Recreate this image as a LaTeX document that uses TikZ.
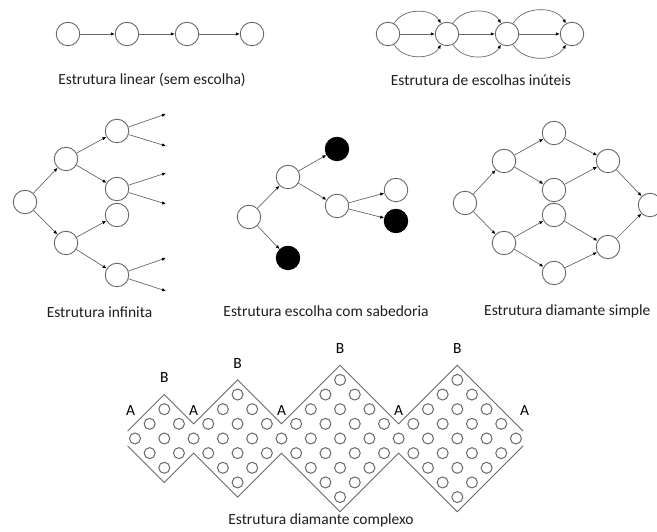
\documentclass[tikz,border=0pt]{standalone}
\usepackage{fontspec}
\setmainfont{Carlito}
\usetikzlibrary{positioning, arrows.meta}
\definecolor{linegray}{RGB}{105,105,105}
\definecolor{textgray}{RGB}{30,30,30}

\begin{document}
\begin{tikzpicture}[x=1pt, y=1pt,
  state/.style={circle, draw=linegray, line width=0.9pt, minimum size=23.5pt, inner sep=0pt, fill=white},
  dead/.style={state, fill=black, draw=black},
  dot/.style={circle, draw=linegray, line width=1pt, minimum size=11pt, inner sep=0pt},
  arrow/.style={-{Latex[length=4pt, width=3.4pt, color=black]}, linegray, line width=0.7pt},
  outline/.style={linegray, line width=0.9pt},
  caption/.style={font=\fontsize{15.5}{17}\selectfont, text=textgray, inner sep=0pt},
  tag/.style={font=\fontsize{15.5}{17}\selectfont, text=black, inner sep=0pt}
]
  \useasboundingbox (0,0) rectangle (657,532);
  \clip (0,0) rectangle (657,532);

  % linear
  \foreach \x [count=\i] in {68,127,187,252}
    \node[state] (L\i) at (\x, 498) {};
  \foreach \i/\j in {1/2,2/3,3/4}
    \draw[arrow] (L\i) -- (L\j);
  \node[caption] (capL) at (152, 452) {Estrutura linear (sem escolha)};

  % useless choices
  \foreach \x [count=\i] in {388,447,507,572}
    \node[state] (U\i) at (\x, 498) {};
  \foreach \i/\j in {1/2,2/3,3/4} {
    \draw[arrow] (U\i) -- (U\j);
    \draw[arrow] (U\i) to[out=60, in=120] (U\j);
    \draw[arrow] (U\i) to[out=-60, in=-120] (U\j);
  }
  \node[caption] (capU) at (481, 452) {Estrutura de escolhas inúteis};

  % infinite
  \node[state] (I0) at (25, 330) {};
  \node[state] (I1) at (66, 373) {};
  \node[state] (I2) at (66, 289) {};
  \node[state] (I11) at (117, 401) {};
  \node[state] (I12) at (117, 343) {};
  \node[state] (I21) at (117, 317) {};
  \node[state] (I22) at (117, 257) {};
  \foreach \y [count=\i] in {418,386,359,328,274,241}
    \coordinate (f\i) at (166, \y);
  \foreach \a/\b in {I0/I1, I0/I2, I1/I11, I1/I12, I2/I21, I2/I22,
                     I11/f1, I11/f2, I12/f3, I12/f4, I22/f5, I22/f6}
    \draw[arrow] (\a) -- (\b);
  \node[caption] (capI) at (99.5, 220) {Estrutura infinita};

  % wisdom
  \node[state] (W0) at (249, 315) {};
  \node[state] (W1) at (288, 355) {};
  \node[dead] (W2) at (288, 274) {};
  \node[dead] (W11) at (337, 383) {};
  \node[state] (W12) at (337, 326) {};
  \node[state] (W121) at (396, 342) {};
  \node[dead] (W122) at (396, 311) {};
  \foreach \a/\b in {W0/W1, W0/W2, W1/W11, W1/W12, W12/W121, W12/W122}
    \draw[arrow] (\a) -- (\b);
  \node[caption] (capW) at (326, 221) {Estrutura escolha com sabedoria};

  % simple diamond
  \node[state] (S0) at (465, 329) {};
  \node[state] (S1) at (504, 371) {};
  \node[state] (S2) at (504, 289) {};
  \node[state] (S11) at (554, 399) {};
  \node[state] (S12) at (554, 342) {};
  \node[state] (S21) at (554, 317) {};
  \node[state] (S22) at (554, 259) {};
  \node[state] (S3) at (608, 371) {};
  \node[state] (S4) at (608, 285) {};
  \node[state] (S5) at (650, 327) {};
  \foreach \a/\b in {S0/S1, S0/S2, S1/S11, S1/S12, S2/S21, S2/S22,
                     S11/S3, S12/S3, S21/S4, S22/S4, S3/S5, S4/S5}
    \draw[arrow] (\a) -- (\b);
  \node[caption, anchor=west] (capS) at (484, 221) {Estrutura diamante simple};

  % complex diamond
  \begin{scope}[shift={(135,93.5)}, x=14.65pt, y=14.65pt]
    \foreach \c/\r/\s in {2/2/-2, 7/3/-2, 14/4/-3, 22/4/-3}
      \foreach \d in {\s,...,\r} {
        \pgfmathtruncatemacro\m{\r-abs(\d)}
        \foreach \k in {0,...,\m} {
          \pgfmathtruncatemacro\i{\c+\d}
          \pgfmathtruncatemacro\j{2*\k-\m}
          \node[dot] (g\i-\j) at (\i, \j) {};
        }
      }
    \draw[outline] (-0.5,0.5) -- (2,3) -- (4,1) -- (7,4) -- (10,1) -- (14,5)
      -- (18,1) -- (22,5) -- (26.5,0.5);
    \draw[outline] (-0.5,-0.5) -- (2,-3) -- (4,-1) -- (7,-4) -- (10,-1) -- (14,-5)
      -- (18,-1) -- (22,-5) -- (26.5,-0.5);
    \foreach \x [count=\i] in {-0.3,4,10,18,26.6}
      \node[tag] (A\i) at (\x, 1.9) {A};
    \foreach \c/\r [count=\i] in {2/2, 7/3, 14/4, 22/4}
      \node[tag] (B\i) at (\c, \r+2.15) {B};
  \end{scope}
  \node[caption] (capC) at (321, 12) {Estrutura diamante complexo};
\end{tikzpicture}
\end{document}
